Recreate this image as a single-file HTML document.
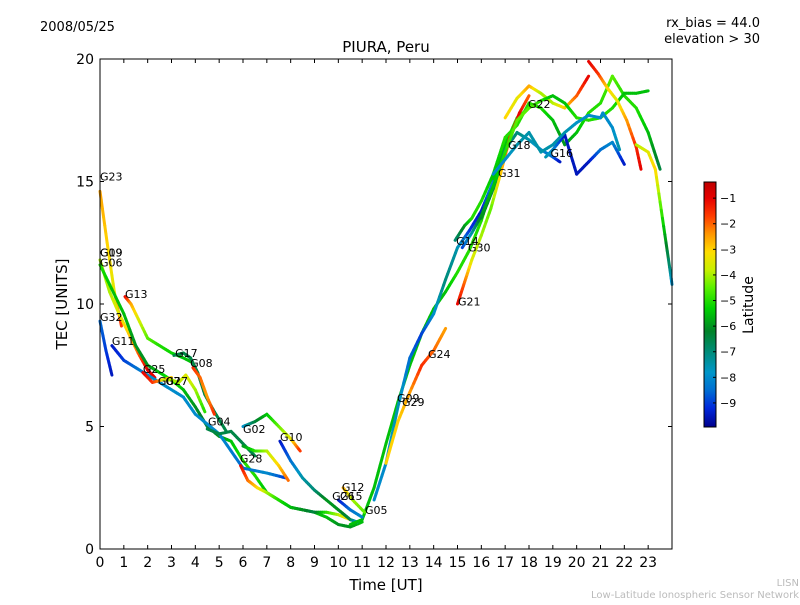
<!DOCTYPE html>
<html><head><meta charset="utf-8"><style>
body{margin:0;background:#fff;}
svg text{font-family:"DejaVu Sans","Liberation Sans",sans-serif;}
</style></head><body>
<svg id="chart" width="800" height="600" viewBox="0 0 800 600">
<rect width="800" height="600" fill="#fff"/>
<text x="40" y="31" font-size="13">2008/05/25</text>
<text x="760" y="27" font-size="13" text-anchor="end">rx_bias = 44.0</text>
<text x="760" y="43" font-size="13" text-anchor="end">elevation &gt; 30</text>
<text x="386" y="52" font-size="15" text-anchor="middle">PIURA, Peru</text>
<text x="386" y="590" font-size="15" text-anchor="middle">Time [UT]</text>
<text x="67" y="304" font-size="15" text-anchor="middle" transform="rotate(-90 67 304)">TEC [UNITS]</text>
<text x="799" y="586" font-size="10" fill="#bbb" text-anchor="end">LISN</text>
<text x="799" y="598" font-size="10" fill="#bbb" text-anchor="end">Low-Latitude Ionospheric Sensor Network</text>
<g id="marks"></g>
<g id="axes"></g>
<g id="cbar"></g>
</svg>
<script>
const xTicks=[0,1,2,3,4,5,6,7,8,9,10,11,12,13,14,15,16,17,18,19,20,21,22,23];
const yTicks=[0,5,10,15,20];
const cbTicks=[-1,-2,-3,-4,-5,-6,-7,-8,-9];
const trackNames=["G23","G19","G06","G32","G11","G13","G25","G27","G17","G08","G04","G28","G02","G26","G10","G05","G09","G24","G21","G14","G18","G22","G30","G16","G31","G15","G12","G29","G07"];
const trackTimes=[
[0,0.3,0.6,0.9],
[0,0.4,0.8,1.2,1.6,2,2.3],
[0,0.5,1,1.5,2,2.5,3,3.5,4,4.5,5,5.5,6,6.5,7,7.5,8,8.5,9,9.5,10,10.5,11],
[0,0.25,0.5],
[0.5,1,1.5,2,2.5,3,3.5,4,5,6,7,7.8],
[1.05,1.3,1.6,2,2.5,3,3.5,3.9],
[1.8,2.2,2.6,3.0],
[2.6,3,3.3,3.6,4.0,4.4],
[3.1,3.5,3.8,4.1,4.4,4.8,5.3],
[3.9,4.2,4.5,4.8],
[4.5,5,5.5,6,6.5],
[5.9,6.2,6.6,7,7.5,8,8.5,9,9.5,10,10.5],
[6,6.5,7,7.5,8,8.4],
[6,6.5,7,7.5,7.9],
[7.55,8,8.5,9,9.5,10,10.5,10.8],
[10.5,11,11.5,12,12.5,13,13.5,14,14.5,15,15.5,16,16.5,17,17.5,18],
[11.5,12,12.5,13,13.5,14,14.5,15,15.5,16,16.5],
[12,12.5,13,13.5,14,14.5],
[15,15.3,15.6,16,16.4,16.8,17.2,17.6,18],
[14.9,15.3,15.6,16,16.5,17,17.5,18,18.5,19,19.5,20,20.5,21,21.5,22,22.5,23,23.5],
[16,16.5,17,17.5,18,18.5,19,19.3],
[17,17.5,18,18.5,19,19.5,20,20.5],
[15.2,15.6,16,16.5,17,17.5,18,18.5,19,19.5,20,20.5,21,21.5,22,22.5,23],
[18.7,19,19.5,20,20.5,21,21.5,22],
[16.5,17,17.5,18,18.5,19,19.5,20,20.5,21,21.1,21.5,21.8],
[10,10.5,11],
[10.2,10.6,11.1],
[20.5,20.9,21.3,21.7,22.1,22.5,22.7],
[22.5,23,23.3,23.6,23.9,24]
];
const trackTec=[
[14.6,12.5,10.5,9.1],
[11.8,10.5,9.6,8.8,8.0,7.3,7.0],
[11.6,10.6,9.6,8.3,7.5,7.2,6.9,6.5,5.8,5.0,4.6,4.4,3.6,3.0,2.3,2.0,1.7,1.6,1.5,1.3,1.0,0.9,1.1],
[9.3,8.1,7.1],
[8.3,7.7,7.4,7.1,6.8,6.5,6.2,5.5,4.7,3.3,3.1,2.9],
[10.3,10.0,9.4,8.6,8.3,8.0,7.8,7.6],
[7.2,6.8,6.9,7.0],
[6.9,6.9,6.8,7.1,6.5,5.6],
[7.9,8.0,7.8,7.2,6.3,5.6,4.8],
[7.4,7.0,6.2,5.5],
[4.9,4.7,4.8,4.3,3.8],
[3.4,2.8,2.5,2.3,2.0,1.7,1.6,1.5,1.5,1.4,1.2],
[5.0,5.2,5.5,5.0,4.5,4.0],
[4.2,4.0,4.0,3.4,2.8],
[4.4,3.6,2.9,2.4,2.0,1.6,1.2,1.1],
[1.0,1.2,2.5,4.3,6.0,7.5,8.8,9.8,10.5,11.3,12.2,13.4,15,16.5,17.6,18.0],
[2,3.5,5.8,7.8,8.8,9.6,11,12.3,13,13.8,15],
[3.5,5.2,6.4,7.5,8.1,9],
[10,10.9,11.8,12.8,13.9,15.3,16.8,17.8,18.5],
[12.6,13.2,13.5,14.2,15.3,16.8,17.3,18.2,18,17.5,16.5,17,17.8,18.2,19.3,18.5,18.0,17.0,15.5],
[13.5,14.7,16.3,17,16.7,16.3,16.0,15.8],
[17.6,18.4,18.9,18.6,18.2,18.0,18.5,19.3],
[12.3,12.9,13.6,14.8,16.2,17.5,18,18.3,18.5,18.2,17.6,17.5,17.6,18,18.6,18.6,18.7],
[16.0,16.3,16.9,15.3,15.8,16.3,16.6,15.7],
[15.3,15.9,16.5,17.0,16.2,16.5,17.0,17.4,17.7,17.6,17.8,17.2,16.3],
[2.0,1.6,1.3],
[2.5,2.0,1.5],
[19.9,19.4,18.8,18.3,17.5,16.4,15.5],
[16.5,16.2,15.5,13.5,11.5,10.8]
];
const trackLat=[
[-2.5,-3,-3.5,-1.5],
[-4,-4,-3.5,-3,-2,-1,-1],
[-5,-5.5,-5.5,-6,-6,-5.5,-5,-5.5,-6,-6.5,-6,-5.5,-5,-5,-5.5,-6,-6,-6,-5.5,-5.5,-6,-6,-5.5],
[-8.5,-9,-9.5],
[-9.5,-9,-8.5,-8,-8,-8,-8,-8,-8,-8.5,-8,-9],
[-1,-2.5,-3.5,-4.5,-5,-5.2,-5.5,-5.5],
[-1,-1.5,-2.5,-3],
[-3.5,-4,-4,-3.5,-4,-5],
[-6.5,-6.5,-6.5,-6.5,-6.5,-6.5,-6.5],
[-1.5,-2,-2.5,-1.5],
[-6.5,-6.5,-6.5,-6.5,-6.5],
[-1,-2,-3,-4,-5,-5.5,-6,-6.5,-5,-4,-3],
[-8,-6.5,-5.5,-4.5,-3.5,-1.5],
[-6,-5,-4,-3,-2],
[-9.5,-8.5,-7.5,-7,-6,-6,-6.5,-8],
[-5.5,-5.5,-5.5,-5.5,-5.5,-5.5,-5.5,-5.5,-5.5,-5,-5,-5,-5.5,-5.5,-5,-4.5],
[-8,-8,-7.5,-8.5,-9,-8,-7,-7.5,-9,-9.5,-8],
[-3,-3,-2.5,-1.5,-2,-2.5],
[-1,-2,-3.5,-4,-4.5,-3,-1.5,-1,-2],
[-7,-6,-5,-5,-5.5,-5,-5,-5,-5,-5.5,-6,-5.5,-5,-5,-4.5,-5,-5,-5.5,-6.5],
[-6,-6.5,-7,-7,-7.5,-8,-8.5,-9.5],
[-3,-3.5,-2.5,-4,-4,-3,-2,-1],
[-9,-7.5,-6,-5.5,-5,-4.5,-4.5,-5,-5.5,-5.5,-5,-5,-5,-5,-5.5,-5.5,-5.5],
[-7.5,-8,-9.5,-9.5,-9.5,-8.5,-8,-9.5],
[-8,-8,-7.5,-7.5,-7.5,-7.5,-7.5,-7.8,-8,-8,-8,-8,-7.5],
[-9.5,-8.5,-8],
[-2.5,-4,-4.5],
[-1,-1.5,-3,-3.5,-2.5,-1.5,-1],
[-4,-3.5,-3,-5,-7,-8]
];
const labelNames=["G23","G19","G09","G06","G13","G32","G11","G17","G08","G25","G07","G27","G04","G02","G10","G28","G12","G26","G15","G05","G09","G29","G24","G21","G14","G30","G31","G18","G22","G16"];
const labelT=[0,0,0,0,1.05,0,0.5,3.15,3.78,1.8,2.43,2.75,4.53,6.0,7.55,5.87,10.15,9.74,10.07,11.12,12.46,12.67,13.76,15.02,14.94,15.44,16.7,17.12,17.96,18.9];
const labelTec=[15.2,12.1,12.1,11.7,10.4,9.47,8.5,8.0,7.6,7.35,6.85,6.85,5.2,4.9,4.57,3.7,2.53,2.16,2.16,1.6,6.16,6.0,7.96,10.1,12.57,12.3,15.35,16.5,18.16,16.16];

const NS="http://www.w3.org/2000/svg";
const X0=100,X1=672,Y0=549,Y1=59;
const xs=t=>X0+(X1-X0)*t/24;
const ys=v=>Y0-(Y0-Y1)*v/20;
const LMIN=-9.94,LMAX=-0.37;
const stops=[[-9.94,[0,0,140]],[-9.2,[0,40,220]],[-8.5,[0,110,210]],[-7.8,[0,150,200]],[-7,[0,140,120]],[-6.2,[0,130,40]],[-5.3,[0,210,0]],[-4.5,[90,240,0]],[-3.8,[200,240,0]],[-3.1,[255,220,0]],[-2.4,[255,150,0]],[-1.7,[255,60,0]],[-1,[230,0,0]],[-0.37,[190,0,0]]];
function col(l){
  if(l<=stops[0][0])return 'rgb('+stops[0][1]+')';
  for(let i=1;i<stops.length;i++){if(l<=stops[i][0]){const a=stops[i-1],b=stops[i],f=(l-a[0])/(b[0]-a[0]);
    return 'rgb('+a[1].map((c,k)=>Math.round(c+(b[1][k]-c)*f)).join(',')+')';}}
  return 'rgb('+stops[stops.length-1][1]+')';
}
const marks=document.getElementById('marks');
for(let i=0;i<trackTimes.length;i++){
  const g=document.createElementNS(NS,'g');
  
  
  const T=trackTimes[i],V=trackTec[i],L=trackLat[i];
  for(let j=0;j<T.length-1;j++){
    const n=6;
    for(let k=0;k<n;k++){
      const f0=k/n,f1=(k+1)/n;
      const ln=document.createElementNS(NS,'line');
      ln.setAttribute('x1',xs(T[j]+(T[j+1]-T[j])*f0));
      ln.setAttribute('y1',ys(V[j]+(V[j+1]-V[j])*f0));
      ln.setAttribute('x2',xs(T[j]+(T[j+1]-T[j])*f1));
      ln.setAttribute('y2',ys(V[j]+(V[j+1]-V[j])*f1));
      ln.setAttribute('stroke',col(L[j]+(L[j+1]-L[j])*(f0+f1)/2));
      ln.setAttribute('stroke-width','3');
      ln.setAttribute('stroke-linecap','round');
      g.appendChild(ln);
    }
  }
  marks.appendChild(g);
}
for(let i=0;i<labelNames.length;i++){
  const t=document.createElementNS(NS,'text');
  
  
  t.setAttribute('x',xs(labelT[i]));t.setAttribute('y',ys(labelTec[i])+4);
  t.setAttribute('font-size','11');t.textContent=labelNames[i];
  marks.appendChild(t);
}
const axes=document.getElementById('axes');
const frame=document.createElementNS(NS,'rect');


frame.setAttribute('x',X0);frame.setAttribute('y',Y1);frame.setAttribute('width',X1-X0);frame.setAttribute('height',Y0-Y1);
frame.setAttribute('fill','none');frame.setAttribute('stroke','#000');frame.setAttribute('stroke-width','1');
axes.appendChild(frame);
function line(p,x1,y1,x2,y2){const l=document.createElementNS(NS,'line');l.setAttribute('x1',x1);l.setAttribute('y1',y1);l.setAttribute('x2',x2);l.setAttribute('y2',y2);l.setAttribute('stroke','#000');p.appendChild(l);return l;}
xTicks.forEach(v=>{
  const x=xs(v);
  const a=line(axes,x,Y0,x,Y0-4);
  const b=line(axes,x,Y1,x,Y1+4);
  const t=document.createElementNS(NS,'text');
  
  
  t.setAttribute('x',x);t.setAttribute('y',Y0+18);t.setAttribute('font-size','14');t.setAttribute('text-anchor','middle');t.textContent=v;axes.appendChild(t);
});
yTicks.forEach(v=>{
  const y=ys(v);
  const a=line(axes,X0,y,X0+4,y);
  const b=line(axes,X1,y,X1-4,y);
  const t=document.createElementNS(NS,'text');
  
  
  t.setAttribute('x',X0-6);t.setAttribute('y',y+5);t.setAttribute('font-size','14');t.setAttribute('text-anchor','end');t.textContent=v;axes.appendChild(t);
});
const cb=document.getElementById('cbar');
const CX=704,CW=12,CT=182,CB=427;
const cy=l=>CB-(CB-CT)*(l-LMIN)/(LMAX-LMIN);
for(let y=CT;y<CB;y++){
  const r=document.createElementNS(NS,'rect');
  
  
  r.setAttribute('x',CX);r.setAttribute('y',y);r.setAttribute('width',CW);r.setAttribute('height',1.2);
  r.setAttribute('fill',col(LMIN+(LMAX-LMIN)*(CB-y-0.5)/(CB-CT)));cb.appendChild(r);
}
const cf=document.createElementNS(NS,'rect');


cf.setAttribute('x',CX);cf.setAttribute('y',CT);cf.setAttribute('width',CW);cf.setAttribute('height',CB-CT);cf.setAttribute('fill','none');cf.setAttribute('stroke','#000');cb.appendChild(cf);
cbTicks.forEach(v=>{
  const y=cy(v);
  const a=line(cb,CX+CW-3,y,CX+CW,y);
  const t=document.createElementNS(NS,'text');
  
  
  t.setAttribute('x',CX+CW+4);t.setAttribute('y',y+4);t.setAttribute('font-size','11');t.textContent='\u2212'+Math.abs(v);cb.appendChild(t);
});
const lt=document.createElementNS(NS,'text');


lt.setAttribute('x',753);lt.setAttribute('y',305);lt.setAttribute('font-size','14');lt.setAttribute('text-anchor','middle');
lt.setAttribute('transform','rotate(-90 753 305)');lt.textContent='Latitude';cb.appendChild(lt);
</script>
</body></html>
